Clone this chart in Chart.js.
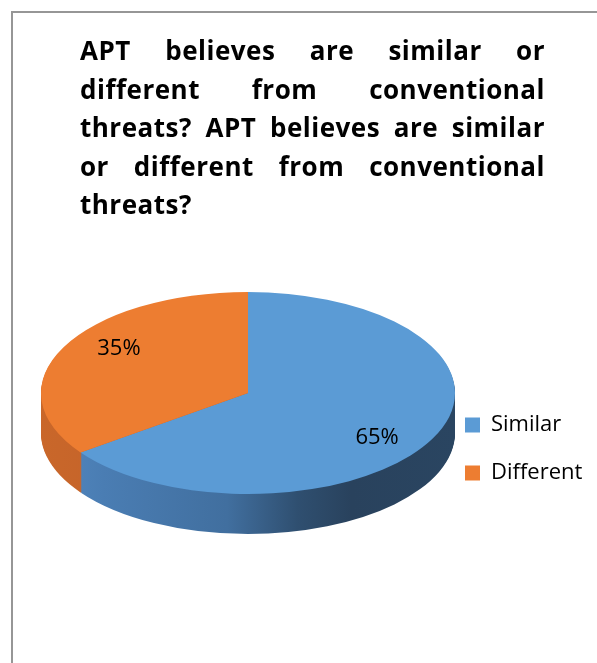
<!DOCTYPE html>
<html>
<head>
<meta charset="utf-8">
<script src="https://cdn.jsdelivr.net/npm/chart.js@4.4.0/dist/chart.umd.min.js"></script>
<style>
  html, body { margin: 0; padding: 0; background: #fff; }
  body { width: 597px; height: 663px; position: relative; overflow: hidden; }
  #frame { position: absolute; left: 11px; top: 11px; width: 700px; height: 700px;
           border-left: 2px solid #969696; border-top: 2px solid #969696; }
  #title { position: absolute; left: 80px; top: 31px; width: 465px;
           font-family: 'Open Sans', sans-serif; font-weight: 700; font-size: 26px;
           letter-spacing: 0.5px; line-height: 38.5px; color: #000; }
  #title div { text-align: justify; text-align-last: justify; }
  #title div.last { text-align-last: left; }
  #c { position: absolute; left: 0; top: 0; }
</style>
</head>
<body>
<div id="frame"></div>
<canvas id="c" width="597" height="663"></canvas>
<div id="title"></div>
<script>
// ---- data ----
const titleLines = [
  'APT believes are similar or',
  'different from conventional',
  'threats? APT believes are similar',
  'or different from conventional',
  'threats?'
];
const categories = ['Similar', 'Different'];
const values = [65, 35];
const sliceColors = ['#5B9BD5', '#ED7D31'];

// ---- title ----
const titleEl = document.getElementById('title');
titleLines.forEach((t, i) => {
  const d = document.createElement('div');
  d.textContent = t;
  if (i === titleLines.length - 1) d.className = 'last';
  titleEl.appendChild(d);
});

// ---- layout / style settings ----
const LAYOUT = {
  area: { left: 41, top: 186, right: 455, bottom: 600 },
  legend: { left: 439, top: 388, right: 597, bottom: 600 },
  squash: 0.488,
  depth: 40,
  labelFx: 0.70,
  labelFy: 0.97
};

function squash(ctx, cy) {
  ctx.translate(0, cy);
  ctx.scale(1, LAYOUT.squash);
  ctx.translate(0, -cy);
}

function sideFill(ctx, i, cx, r) {
  const g = ctx.createLinearGradient(cx - r, 0, cx + r, 0);
  if (i === 0) {
    g.addColorStop(0, '#5288c0');
    g.addColorStop(0.15, '#4a7db3');
    g.addColorStop(0.45, '#416f9f');
    g.addColorStop(0.62, '#2f4f70');
    g.addColorStop(0.75, '#29425d');
    g.addColorStop(1, '#2a4561');
  } else {
    g.addColorStop(0, '#c9672a');
    g.addColorStop(0.2, '#c4632a');
    g.addColorStop(1, '#b05a22');
  }
  return g;
}

const layoutPlugin = {
  id: 'layoutFix',
  afterLayout(chart) {
    const a = LAYOUT.area;
    chart.chartArea = { left: a.left, top: a.top, right: a.right, bottom: a.bottom,
                        width: a.right - a.left, height: a.bottom - a.top };
    const lg = chart.legend;
    if (lg) {
      const L = LAYOUT.legend;
      lg.left = L.left; lg.right = L.right; lg.top = L.top; lg.bottom = L.bottom;
      lg.width = L.right - L.left; lg.height = L.bottom - L.top;
    }
  }
};

const pie3d = {
  id: 'pie3d',
  beforeDatasetsDraw(chart) {
    const ctx = chart.ctx;
    const arcs = chart.getDatasetMeta(0).data;
    const cx = arcs[0].x, cy = arcs[0].y, r = arcs[0].outerRadius;
    for (let d = LAYOUT.depth; d >= 1; d--) {
      arcs.forEach((arc, i) => {
        ctx.save();
        ctx.translate(0, d);
        squash(ctx, cy);
        ctx.fillStyle = sideFill(ctx, i, cx, r);
        ctx.beginPath();
        ctx.moveTo(arc.x, arc.y);
        ctx.arc(arc.x, arc.y, arc.outerRadius, arc.startAngle, arc.endAngle);
        ctx.closePath();
        ctx.fill();
        ctx.restore();
      });
    }
    ctx.save();
    squash(ctx, cy);
  },
  afterDatasetsDraw(chart) {
    const ctx = chart.ctx;
    ctx.restore();
    const arcs = chart.getDatasetMeta(0).data;
    const total = values.reduce((s, v) => s + v, 0);
    ctx.save();
    ctx.font = '22px "Open Sans"';
    ctx.fillStyle = '#000';
    ctx.textAlign = 'center';
    ctx.textBaseline = 'middle';
    arcs.forEach((arc, i) => {
      const mid = (arc.startAngle + arc.endAngle) / 2;
      const x = arc.x + Math.cos(mid) * arc.outerRadius * LAYOUT.labelFx;
      const y = arc.y + Math.sin(mid) * arc.outerRadius * LAYOUT.labelFy * LAYOUT.squash;
      ctx.fillText(Math.round(values[i] / total * 100) + '%', x, y);
    });
    ctx.restore();
  }
};

new Chart(document.getElementById('c'), {
  type: 'pie',
  data: {
    labels: categories,
    datasets: [{
      data: values,
      backgroundColor: sliceColors,
      borderWidth: 0,
      clip: false
    }]
  },
  options: {
    responsive: false,
    animation: false,
    devicePixelRatio: 1,
    events: [],
    plugins: {
      legend: {
        position: 'right',
        align: 'start',
        labels: {
          boxWidth: 15,
          boxHeight: 15,
          padding: 26,
          color: '#000',
          font: { family: 'Open Sans', size: 22 }
        }
      },
      tooltip: { enabled: false },
      title: { display: false }
    }
  },
  plugins: [layoutPlugin, pie3d]
});
</script>
</body>
</html>
